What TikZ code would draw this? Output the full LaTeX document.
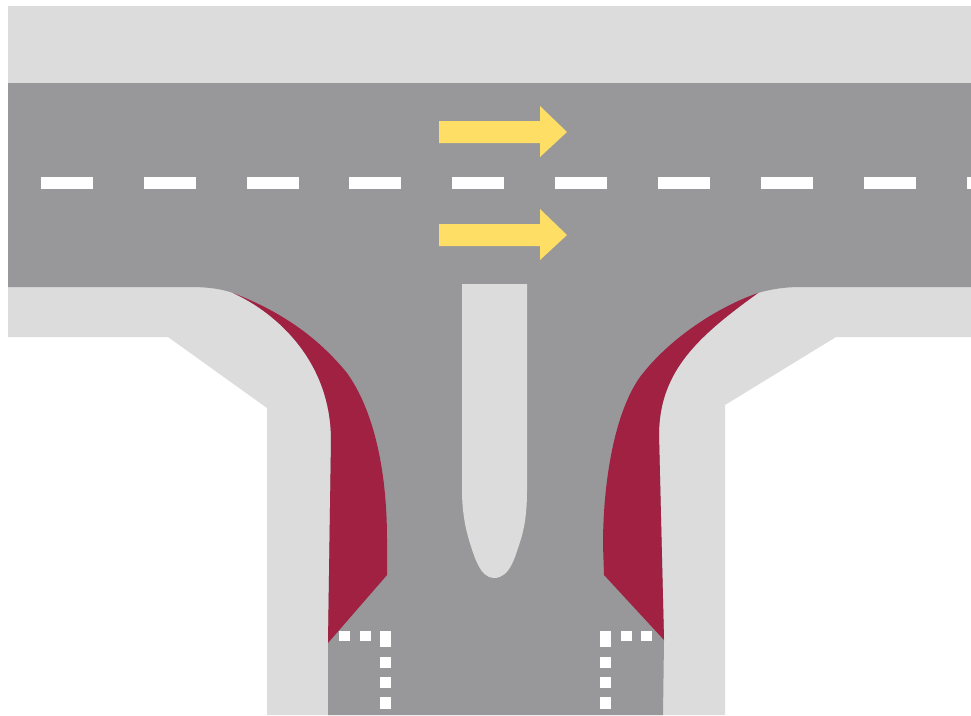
\documentclass[tikz,border=0pt]{standalone}
\definecolor{roadgrey}{HTML}{98989A}
\definecolor{walk}{HTML}{DCDCDC}
\definecolor{wine}{HTML}{A02142}
\definecolor{sun}{HTML}{FFDE66}
\tikzset{
  road/.style={fill=roadgrey,draw=none},
  sidewalk/.style={fill=walk,draw=none},
  hatch/.style={fill=wine,draw=none},
  arrowmark/.style={fill=sun,draw=none},
  paint/.style={fill=white,draw=none},
}
\newcommand{\flowarrow}[1]{%
  \fill[arrowmark] (439,#1-11) -- (540,#1-11) -- (540,#1-26) -- (567,#1) -- (540,#1+25) -- (540,#1+11) -- (439,#1+11) -- cycle;}
\newcommand{\dotmark}[4]{\fill[paint] (#1,#2) rectangle (#3,#4);}
\begin{document}
\begin{tikzpicture}[x=1pt,y=-1pt]
\useasboundingbox (0,0) rectangle (971,715);
\fill[white] (0,0) rectangle (971,715);
% top sidewalk
\fill[sidewalk] (8,6) rectangle (971,84);
% side pavements
\fill[sidewalk] (8,280) -- (971,280) -- (971,337) -- (836,337) -- (725,405) -- (725,715) -- (267,715) -- (267,408) -- (168,337) -- (8,337) -- cycle;
% road surface
\fill[road] (8,83) -- (971,83) -- (971,287) -- (800,287)
  .. controls (786,287) and (771,289) .. (758,293)
  .. controls (700,335) and (659,370) .. (659,435)
  -- (664,640) -- (663,715) -- (328,715) -- (328,643) -- (331,440)
  .. controls (331,360) and (275,312) .. (233,293)
  .. controls (222,289) and (208,287) .. (190,287)
  -- (8,287) -- cycle;
% left wine area
\fill[hatch] (233,293)
  .. controls (285,313) and (320,340) .. (347,373)
  .. controls (372,408) and (387,465) .. (387,540)
  -- (387,575) -- (328,643) -- (331,440)
  .. controls (331,360) and (275,312) .. (233,293) -- cycle;
% right wine area
\fill[hatch] (758,293)
  .. controls (715,308) and (668,340) .. (640,377)
  .. controls (615,412) and (603,480) .. (603,545)
  -- (604,575) -- (664,640) -- (659,435)
  .. controls (659,370) and (700,335) .. (758,293) -- cycle;
% island
\fill[sidewalk] (462,284) -- (527,284) -- (527,490)
  .. controls (527,515) and (524,530) .. (520,542)
  .. controls (515,557) and (510,578) .. (494,578)
  .. controls (480,578) and (474,556) .. (469,540)
  .. controls (465,527) and (462,510) .. (462,490) -- cycle;
% arrows
\flowarrow{132}
\flowarrow{235}
% dashes
\foreach \x in {41,144,247,349,452,555,658,761,864,967}
  \fill[paint] (\x,177) rectangle (\x+52,189);
% dotted give-way marks, left
\dotmark{339}{631}{350}{641}
\dotmark{360}{631}{371}{641}
\dotmark{380}{631}{391}{647}
\dotmark{380}{657}{391}{668}
\dotmark{380}{677}{391}{688}
\dotmark{380}{697}{391}{709}
% right
\dotmark{641}{631}{652}{641}
\dotmark{621}{631}{632}{641}
\dotmark{600}{631}{611}{647}
\dotmark{600}{657}{611}{668}
\dotmark{600}{677}{611}{688}
\dotmark{600}{697}{611}{709}
\end{tikzpicture}
\end{document}
